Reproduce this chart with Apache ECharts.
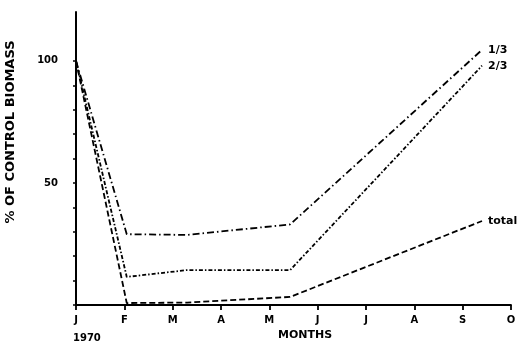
<!DOCTYPE html>
<html>
<head>
<meta charset="utf-8">
<script src="https://cdn.jsdelivr.net/npm/echarts@6/dist/echarts.min.js"></script>
<style>
  html, body { margin: 0; padding: 0; background: #fff; }
  #chart { width: 524px; height: 349px; }
</style>
</head>
<body>
<div id="chart"></div>
<script>
// Month positions (0 = January 1970), sampling dates
var sampleMonths = [0, 1.05, 2.3, 4.43, 8.4];
// Biomass as % of control
var oneThird  = [100, 29, 28.7, 33, 104.5];
var twoThirds = [100, 11.5, 14.3, 14.3, 98];
var totalCut  = [100, 0.8, 1.0, 3.3, 34.4];
var monthLabels = ['J', 'F', 'M', 'A', 'M', 'J', 'J', 'A', 'S', 'O'];
var yTicks = [0, 10, 20, 30, 40, 50, 60, 70, 80, 90, 100];
var yLabels = [50, 100];

var FONT = 'DejaVu Sans';

function pairs(xs, ys) {
  return xs.map(function (x, i) { return [x, ys[i]]; });
}

function lineSeries(name, values, dash) {
  return {
    name: name,
    type: 'line',
    data: pairs(sampleMonths, values),
    symbol: 'none',
    lineStyle: { color: '#000', width: 1.8, type: dash },
    endLabel: {
      show: true,
      formatter: name,
      color: '#000',
      fontFamily: FONT,
      fontWeight: 'bold',
      fontSize: 11,
      distance: 6
    },
    animation: false
  };
}

var chart = echarts.init(document.getElementById('chart'), null, { renderer: 'canvas' });
chart.setOption({
  backgroundColor: '#fff',
  animation: false,
  grid: { left: 76, right: 13, top: 12, bottom: 44 },
  xAxis: {
    type: 'value',
    min: 0,
    max: 9,
    interval: 1,
    splitLine: { show: false },
    axisLine: { lineStyle: { color: '#000', width: 1.8 } },
    axisTick: { length: 5, lineStyle: { color: '#000', width: 1.8 } },
    axisLabel: {
      formatter: function (v) { return monthLabels[Math.round(v)] || ''; },
      color: '#000',
      fontFamily: FONT,
      fontWeight: 'bold',
      fontSize: 10,
      margin: 10
    }
  },
  yAxis: {
    type: 'value',
    min: 0,
    max: 120,
    interval: 10,
    splitLine: { show: false },
    axisLine: { lineStyle: { color: '#000', width: 2 } },
    axisTick: { customValues: yTicks, length: 3, lineStyle: { color: '#000', width: 1.5 } },
    axisLabel: {
      customValues: yLabels,
      color: '#000',
      fontFamily: FONT,
      fontWeight: 'bold',
      fontSize: 10,
      margin: 18
    }
  },
  graphic: [
    {
      type: 'text',
      x: 11, y: 132,
      rotation: Math.PI / 2,
      style: {
        text: '% OF CONTROL BIOMASS',
        fill: '#000',
        font: 'bold 13px "DejaVu Sans"',
        align: 'center',
        verticalAlign: 'middle'
      }
    },
    {
      type: 'text',
      x: 73, y: 338,
      style: {
        text: '1970',
        fill: '#000',
        font: 'bold 10px "DejaVu Sans"',
        align: 'left',
        verticalAlign: 'middle'
      }
    },
    {
      type: 'text',
      x: 305, y: 335,
      style: {
        text: 'MONTHS',
        fill: '#000',
        font: 'bold 11px "DejaVu Sans"',
        align: 'center',
        verticalAlign: 'middle'
      }
    }
  ],
  series: [
    lineSeries('1/3', oneThird, [7, 3, 1.5, 3]),
    lineSeries('2/3', twoThirds, [4, 2, 1.5, 2]),
    lineSeries('total', totalCut, [6, 3])
  ]
});
</script>
</body>
</html>
